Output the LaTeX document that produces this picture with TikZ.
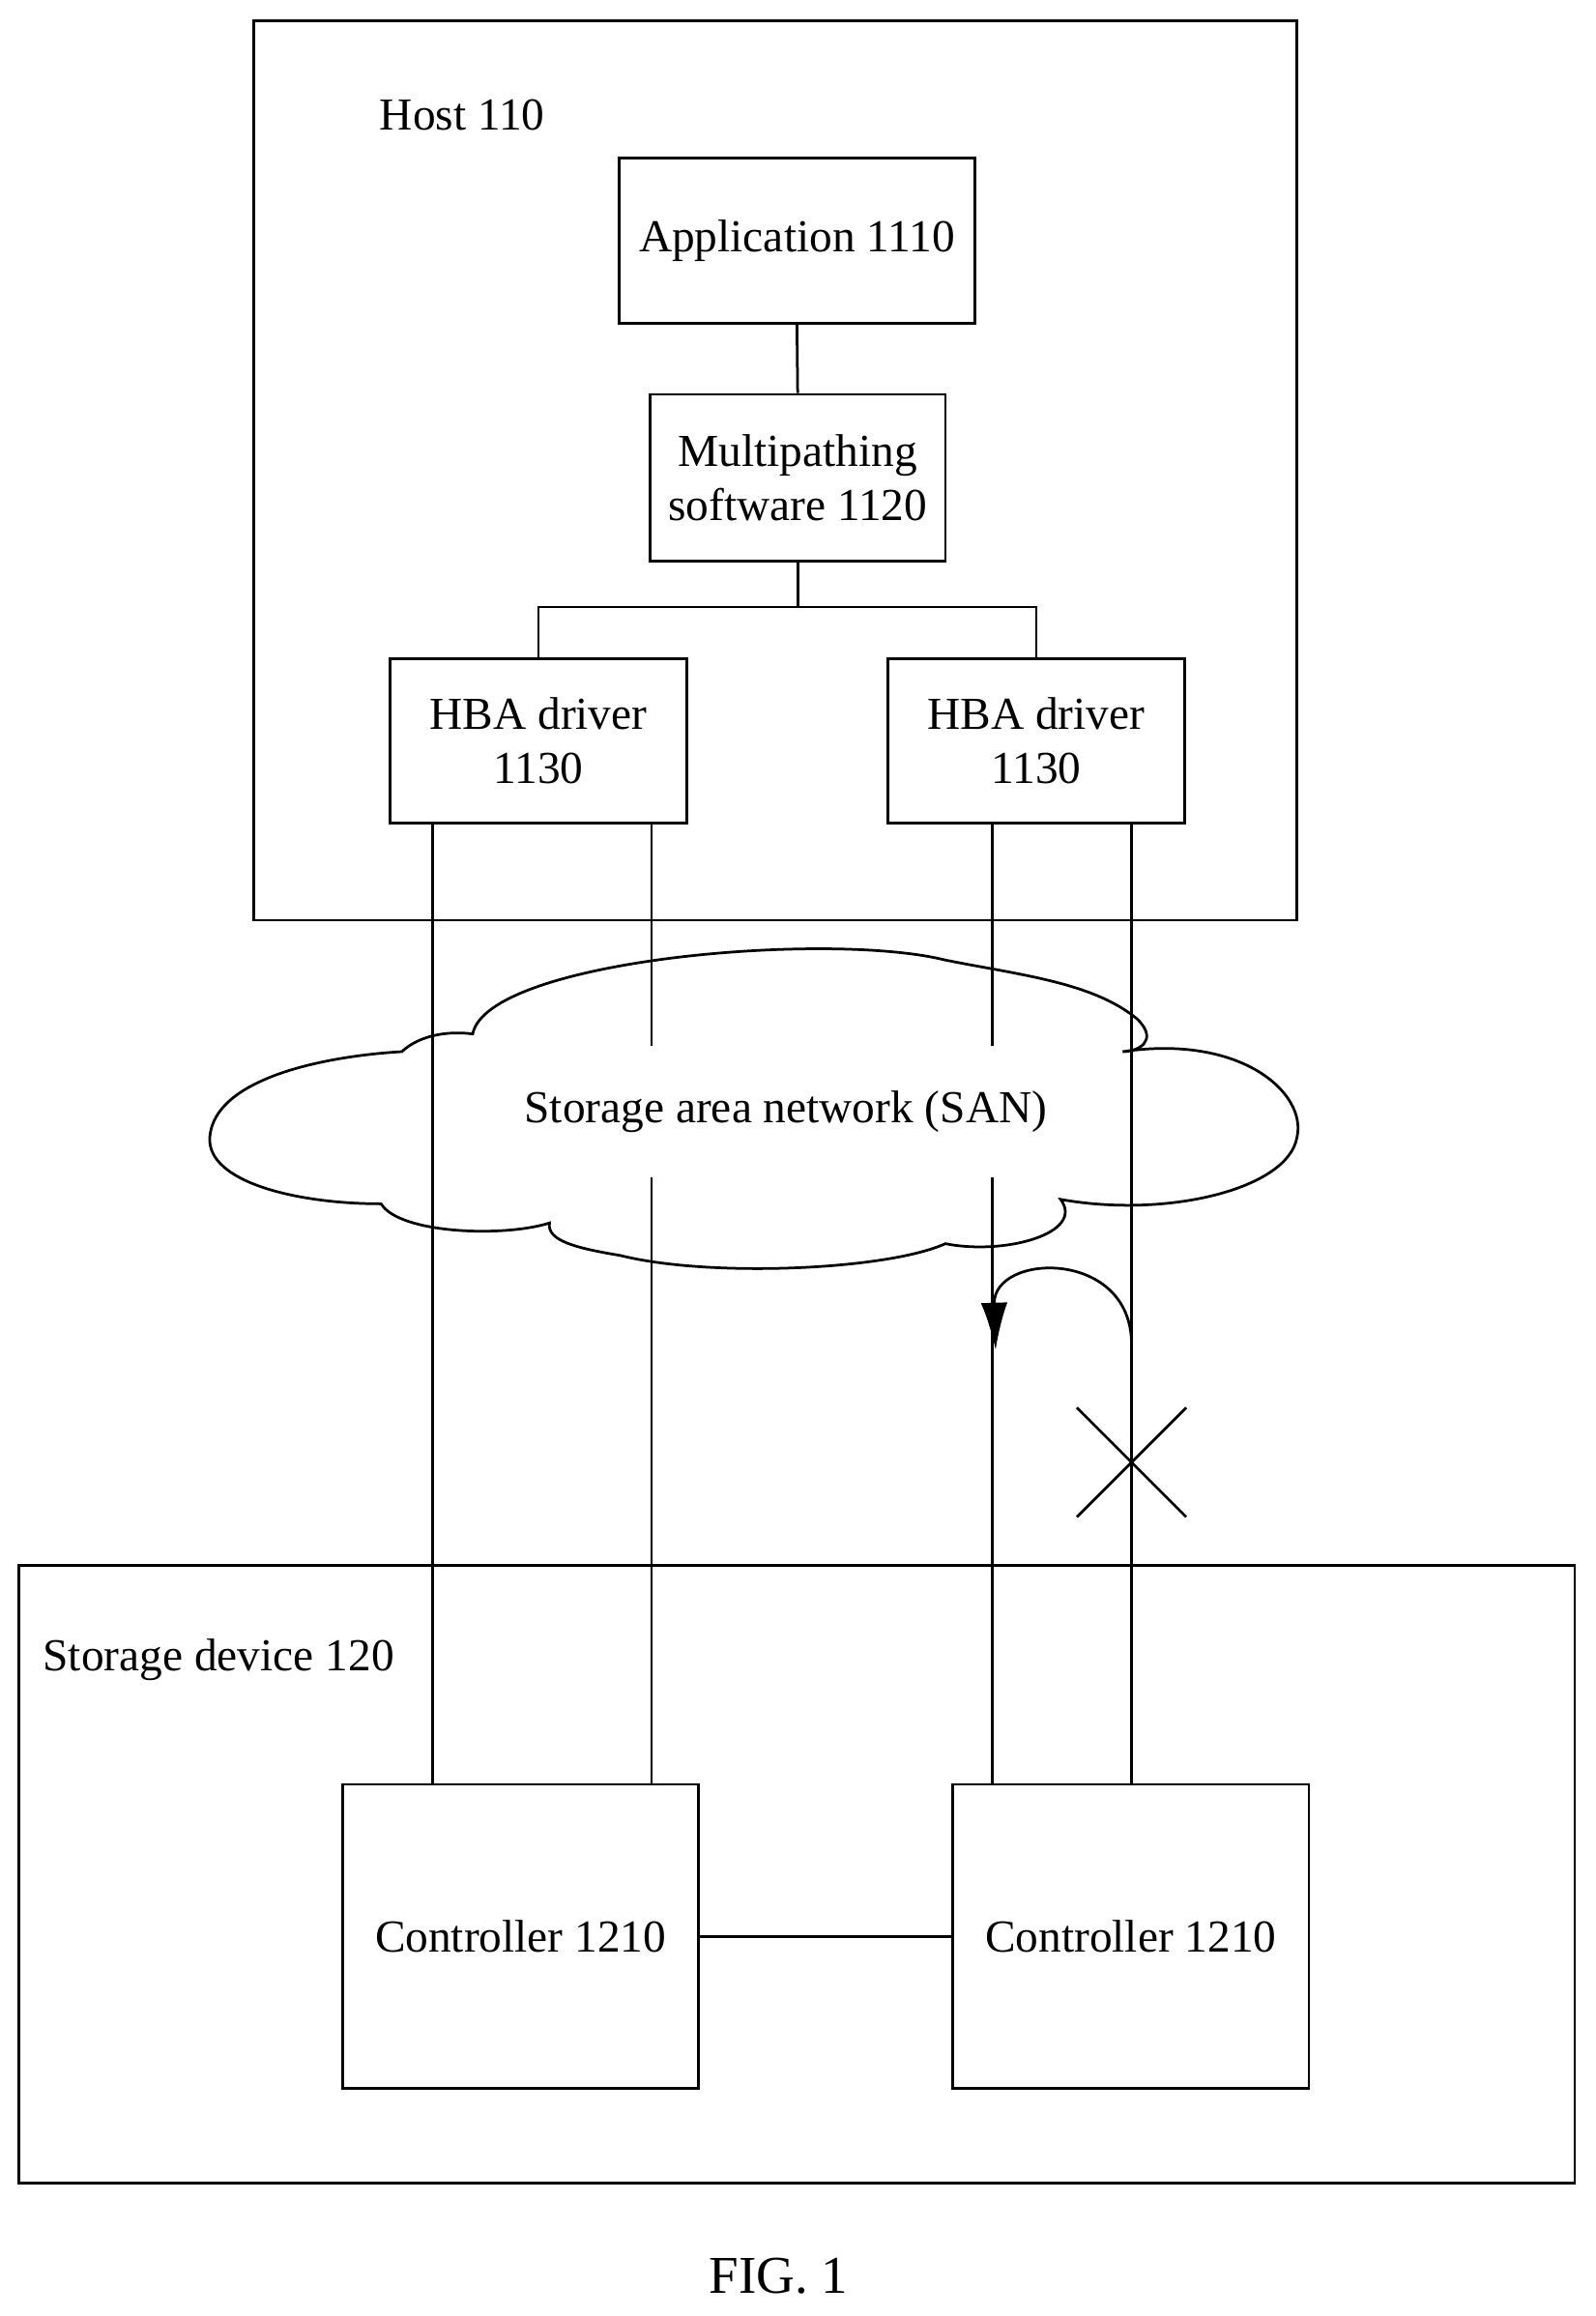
\documentclass[tikz,border=0pt]{standalone}
\usepackage{fontspec}
\setmainfont{Liberation Serif}
\usetikzlibrary{arrows.meta}
\begin{document}
\begin{tikzpicture}[x=0.5pt,y=-0.5pt,
  box/.style={draw,line width=0.9pt,rectangle,inner sep=0pt,align=center,font=\fontsize{15.5}{18.5}\selectfont},
  lbl/.style={font=\fontsize{15.5}{18.5}\selectfont},
  ln/.style={line width=0.9pt}]
\useasboundingbox (0,0) rectangle (1080,1568);
% host and storage frames
\node[box,minimum width=353pt,minimum height=304.5pt] (host) at (525,318.5) {};
\node[lbl] (hostl) at (313,78) {Host 110};
\node[box,minimum width=526.5pt,minimum height=209pt] (stor) at (539.5,1269) {};
\node[lbl] (storl) at (148,1124) {Storage device 120};
% boxes
\node[box,minimum width=120.5pt,minimum height=56pt] (app) at (539.5,163) {Application 1110};
\node[box,minimum width=100pt,minimum height=56.5pt] (mp) at (540,323.5) {Multipathing\\software 1120};
\node[box,minimum width=100.5pt,minimum height=55.5pt] (h1) at (364.5,501.5) {HBA driver\\1130};
\node[box,minimum width=100.5pt,minimum height=55.5pt] (h2) at (701.5,501.5) {HBA driver\\1130};
\node[box,minimum width=120.5pt,minimum height=103pt] (c1) at (352.5,1311) {Controller 1210};
\node[box,minimum width=120.5pt,minimum height=103pt] (c2) at (765.5,1311) {Controller 1210};
% cloud
\draw[ln] (320,700) .. controls (330,650) and (560,630) .. (640,650)
  .. controls (690,660) and (740,665) .. (770,690)
  .. controls (785,705) and (770,712) .. (760,712)
  .. controls (840,700) and (885,740) .. (878,770)
  .. controls (872,805) and (790,825) .. (718,812)
  .. controls (735,835) and (680,850) .. (640,842)
  .. controls (600,860) and (480,865) .. (420,850)
  .. controls (390,845) and (370,840) .. (372,828)
  .. controls (340,838) and (270,835) .. (258,815)
  .. controls (200,815) and (140,800) .. (142,770)
  .. controls (145,730) and (220,715) .. (272,712)
  .. controls (285,700) and (305,698) .. (320,700) -- cycle;
\node[lbl] (sanl) at (532,753) {Storage area network (SAN)};
% connectors in host
\draw[ln] (app.south) -- (mp.north);
\coordinate (b) at (540,411);
\draw[ln] (mp.south) -- (b);
\draw[ln] (b) -| (h1.north);
\draw[ln] (b) -| (h2.north);
% paths
\coordinate (g1a) at (441,708); \coordinate (g1b) at (441,797);
\coordinate (g2a) at (672,708); \coordinate (g2b) at (672,797);
\draw[ln] (h1.south -| 293,0) -- (c1.north -| 293,0);
\draw[ln] (h1.south -| 441,0) -- (g1a);
\draw[ln] (g1b) -- (c1.north -| 441,0);
\draw[ln] (h2.south -| 672,0) -- (g2a);
\draw[ln] (g2b) -- (c2.north -| 672,0);
\draw[ln] (h2.south -| 766,0) -- (c2.north -| 766,0);
% failover arrow
\coordinate (fa) at (766,910);
\coordinate (fb) at (674,914);
\draw[ln,-{Latex[length=16pt,width=9pt]}] (fa) .. controls (766,845) and (672,848) .. (fb);
% cross
\coordinate (x1) at (729,953); \coordinate (x2) at (803,1027);
\coordinate (x3) at (729,1027); \coordinate (x4) at (803,953);
\draw[ln] (x1) -- (x2);
\draw[ln] (x3) -- (x4);
% controller link
\draw[ln] (c1.east) -- (c2.west);
\node[font=\fontsize{18}{21}\selectfont] (fig) at (527,1541) {FIG. 1};
\end{tikzpicture}
\end{document}
